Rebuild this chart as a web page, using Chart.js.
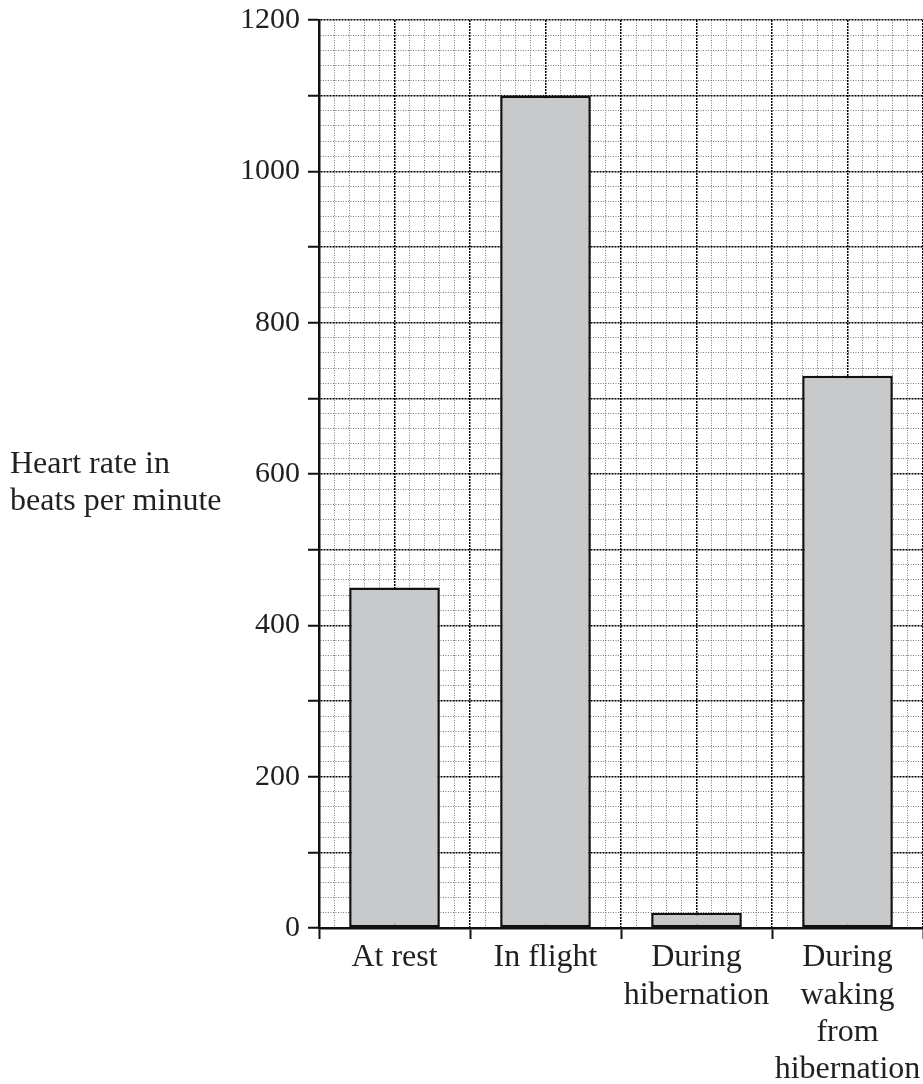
<!DOCTYPE html>
<html>
<head>
<meta charset="utf-8">
<script src="https://cdn.jsdelivr.net/npm/chart.js@4.4.1/dist/chart.umd.min.js"></script>
<style>
  html, body { margin: 0; padding: 0; background: #fff; }
  #wrap { position: relative; width: 923px; height: 1084px; }
  #ytitle {
    position: absolute; left: 10px; top: 444px;
    font: 32px "Liberation Serif", "Times New Roman", serif;
    line-height: 37px; color: #231f20;
  }
</style>
</head>
<body>
<div id="wrap">
  <canvas id="chart" width="923" height="1084"></canvas>
  <div id="ytitle">Heart rate in<br>beats per minute</div>
</div>
<script>
/* bat heart rate, beats per minute */
var categories = [['At rest'], ['In flight'], ['During', 'hibernation'], ['During', 'waking', 'from', 'hibernation']];
var heartRate  = [450, 1100, 20, 730];
var yLabelled  = [0, 200, 400, 600, 800, 1000, 1200];
var yMin = 0, yMax = 1200, yMinorStep = 20, yMajorStep = 100;

var INK = '#231f20';
var SERIF = '"Liberation Serif", "Times New Roman", serif';
var YFONT = { family: SERIF, size: 30, lineHeight: 1.22 };
var XFONT = { family: SERIF, size: 32, lineHeight: 1.17 };

function isMajor(v, step){ return Math.abs(v / step - Math.round(v / step)) < 1e-6; }
function tickVal(c){ return c && c.tick ? c.tick.value : null; }

// y grid: minor every 20, darker every 100
function yGridColor(c){
  var v = tickVal(c); if (v === null || v === 0) return 'rgba(0,0,0,0)';
  return isMajor(v, yMajorStep) ? '#000' : '#7a7a7a';
}
function yGridWidth(c){ var v = tickVal(c); return (v !== null && isMajor(v, yMajorStep)) ? 1.5 : 1; }
// x grid: ten lines per category, darker every 5
function xGridColor(c){
  var v = tickVal(c); if (v === null || v === 0) return 'rgba(0,0,0,0)';
  return isMajor(v, 5) ? '#000' : '#7a7a7a';
}
function xGridWidth(c){ var v = tickVal(c); return (v !== null && isMajor(v, 5)) ? 1.5 : 1; }
function dashY(c){ var v = tickVal(c); return (v !== null && isMajor(v, yMajorStep)) ? [2, 1] : [1, 1.5]; }
function dashX(c){ var v = tickVal(c); return (v !== null && isMajor(v, 5)) ? [2, 1] : [1, 1.5]; }

function noPad(s){ s.paddingLeft = 0; s.paddingRight = 0; s.paddingTop = 0; s.paddingBottom = 0; }

new Chart(document.getElementById('chart'), {
  type: 'bar',
  data: {
    labels: categories,
    datasets: [{
      data: heartRate,
      backgroundColor: '#c8c9cb',
      borderColor: '#111',
      borderWidth: 2.5,
      borderSkipped: false,
      barPercentage: 0.6,
      categoryPercentage: 1.0,
      xAxisID: 'x', yAxisID: 'y'
    }]
  },
  options: {
    responsive: false,
    animation: false,
    devicePixelRatio: 1,
    layout: { padding: { top: 20, right: 0, left: 0, bottom: 0 } },
    plugins: { legend: { display: false }, tooltip: { enabled: false } },
    scales: {
      x: {
        type: 'category',
        position: 'bottom',
        offset: true,
        grid: { offset: true, drawOnChartArea: false, drawTicks: true, tickLength: 11, tickWidth: 2, tickColor: '#111' },
        border: { display: true, color: '#111', width: 2.5 },
        ticks: { color: INK, font: XFONT, padding: 0, autoSkip: false, maxRotation: 0, minRotation: 0 },
        afterFit: function(s){ s.height = 156; }
      },
      xg: {
        type: 'linear',
        position: 'bottom',
        offset: false,
        min: 0, max: 40,
        ticks: { display: false, stepSize: 1, autoSkip: false },
        grid: { offset: false, color: xGridColor, lineWidth: xGridWidth, drawTicks: false },
        border: { display: false, dash: dashX },
        afterFit: function(s){ s.height = 0; noPad(s); }
      },
      y: {
        type: 'linear',
        min: yMin, max: yMax,
        ticks: {
          stepSize: yMinorStep, autoSkip: false, color: INK, font: YFONT, padding: 8,
          callback: function(v){ return yLabelled.indexOf(v) >= 0 ? String(v) : ''; }
        },
        grid: {
          color: yGridColor, lineWidth: yGridWidth, drawTicks: true, tickLength: 11, tickWidth: 2,
          tickColor: function(c){ var v = tickVal(c); return (v !== null && isMajor(v, yMajorStep)) ? '#111' : 'rgba(0,0,0,0)'; }
        },
        border: { display: true, color: '#111', width: 2.5, dash: dashY },
        afterFit: function(s){ s.width = 319; s.paddingTop = 0; s.paddingBottom = 0; }
      }
    }
  }
});
</script>
</body>
</html>
